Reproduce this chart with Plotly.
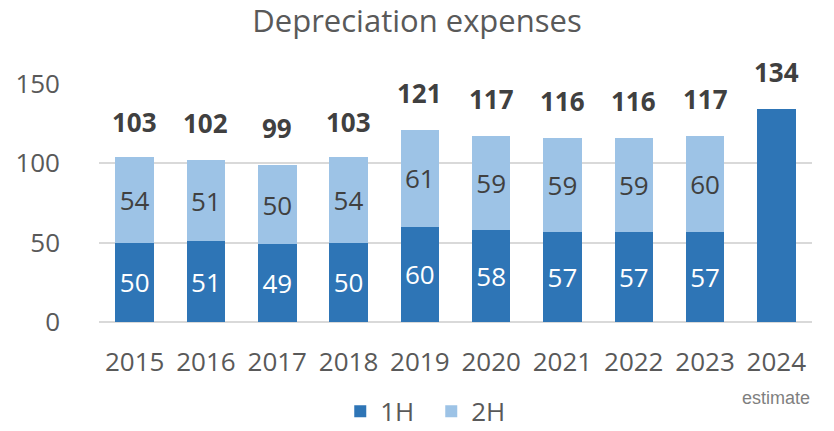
import plotly.graph_objects as go

years = ["2015", "2016", "2017", "2018", "2019", "2020", "2021", "2022", "2023", "2024"]
h1 = [50, 51, 49, 50, 60, 58, 57, 57, 57, None]
h2 = [54, 51, 50, 54, 61, 59, 59, 59, 60, None]
estimate_2024 = [None, None, None, None, None, None, None, None, None, 134]
totals = [103, 102, 99, 103, 121, 117, 116, 116, 117, 134]
estimate_label = "estimate"

DARK = "#2E75B6"
LIGHT = "#9DC3E6"
FONT = "Open Sans"

fig = go.Figure()
fig.add_trace(go.Bar(
    x=years, y=h1, name="1H", marker=dict(color=DARK, line=dict(width=0)),
    text=[str(v) if v is not None else "" for v in h1],
    textposition="inside", insidetextanchor="middle", constraintext="none",
    textfont=dict(family=FONT, size=26, color="white"),
))
fig.add_trace(go.Bar(
    x=years, y=h2, name="2H", marker=dict(color=LIGHT, line=dict(width=0)),
    text=[str(v) if v is not None else "" for v in h2],
    textposition="inside", insidetextanchor="middle", constraintext="none",
    textfont=dict(family=FONT, size=26, color="#404040"),
))
fig.add_trace(go.Bar(
    x=years, y=estimate_2024, name="estimate", marker=dict(color=DARK, line=dict(width=0)),
    showlegend=False,
))

for i, t in enumerate(totals):
    fig.add_annotation(
        x=i, y=t, xref="x", yref="y", text="<b>%d</b>" % t,
        showarrow=False, yanchor="bottom", yshift=17,
        font=dict(family=FONT, size=26, color="#404040"),
    )

fig.add_annotation(
    x=len(years) - 1, y=-0.32, xref="x", yref="paper", text=estimate_label,
    showarrow=False, yanchor="middle", xanchor="center",
    font=dict(family="Liberation Sans", size=18, color="#7F7F7F"),
)

fig.update_layout(
    width=834, height=431,
    barmode="stack", bargap=0.46,
    paper_bgcolor="white", plot_bgcolor="white",
    margin=dict(l=99, r=22, t=84, b=109, autoexpand=False),
    title=dict(text="Depreciation expenses", x=0.5, xanchor="center",
               y=0.95, yanchor="middle",
               font=dict(family=FONT, size=31, color="#595959")),
    font=dict(family=FONT, size=26, color="#595959"),
    showlegend=True,
    legend=dict(orientation="h", x=0.466, xanchor="center", y=-0.375, yanchor="middle",
                font=dict(family=FONT, size=26, color="#595959"),
                entrywidth=46, entrywidthmode="pixels",
                traceorder="normal"),
)
fig.update_yaxes(range=[0, 150], tickvals=[0, 50, 100, 150], showgrid=True,
                 gridcolor="#D9D9D9", gridwidth=1.5, zeroline=True,
                 zerolinecolor="#D9D9D9", zerolinewidth=1.5, showline=False,
                 automargin=False, ticklabelstandoff=38,
                 tickfont=dict(family=FONT, size=26, color="#595959"))
fig.update_xaxes(type="category", range=[-0.5, len(years) - 0.5], showgrid=False,
                 showline=False, ticks="", ticklabelstandoff=22, automargin=False,
                 tickfont=dict(family=FONT, size=26, color="#595959"))

fig.write_html("out.html", config={"displayModeBar": False},
               post_script="document.body.style.margin='0';")
